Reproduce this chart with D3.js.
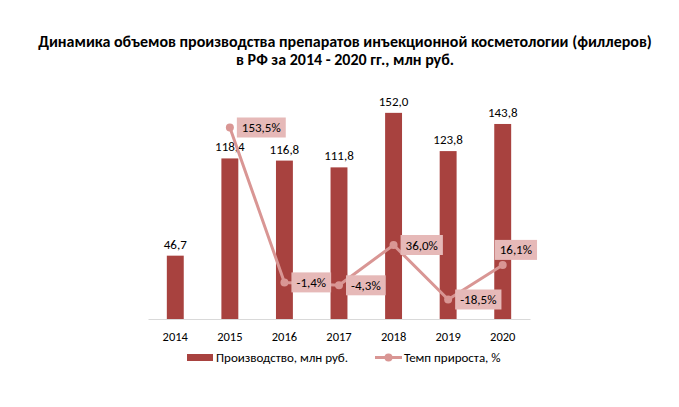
<!DOCTYPE html>
<html><head><meta charset="utf-8">
<script src="https://cdn.jsdelivr.net/npm/d3@7"></script>
<style>body{margin:0;background:#fff}svg{display:block}</style>
</head><body>
<script>
const years = ["2014","2015","2016","2017","2018","2019","2020"];
const production = [46.7,118.4,116.8,111.8,152.0,123.8,143.8];
const growth = [null,153.5,-1.4,-4.3,36.0,-18.5,16.1];
const titleLines = ["Динамика объемов производства препаратов инъекционной косметологии (филлеров)","в РФ за 2014 - 2020 гг., млн руб."];
const legendLabels = ["Производство, млн руб.","Темп прироста, %"];

const W=679,H=407;
const font="Carlito, Calibri, 'Liberation Sans', sans-serif";
const barColor="#A8423F", lineColor="#D99694", boxColor="#E6B9B8";
const svg=d3.select("body").append("svg").attr("width",W).attr("height",H);

svg.selectAll("text.title").data(titleLines).join("text")
  .attr("x",345).attr("y",(d,i)=>47+i*18).attr("text-anchor","middle")
  .attr("font-family",font).attr("font-weight","bold").attr("font-size",16)
  .attr("fill","#000").text(d=>d);

const x=d3.scaleBand().domain(years).range([148,530]).paddingInner(0.69).paddingOuter(0.345);
const y=d3.scaleLinear().domain([0,160]).range([319,102]);
const y2=d3.scaleLinear().domain([-38,179]).range([319,102]);
const fmt=v=>v.toFixed(1).replace(".",",");

// axis
const xAxis=svg.append("g").attr("transform","translate(0,319)").call(d3.axisBottom(x).tickSize(0).tickPadding(13));
xAxis.select(".domain").attr("stroke","#d9d9d9");
xAxis.selectAll("text").attr("font-family",font).attr("font-size",12.5).attr("fill","#000");

// bars
svg.selectAll("rect.bar").data(production).join("rect")
  .attr("x",(d,i)=>x(years[i])).attr("width",x.bandwidth())
  .attr("y",d=>y(d)).attr("height",d=>y(0)-y(d)).attr("fill",barColor);
svg.selectAll("text.bl").data(production).join("text")
  .attr("x",(d,i)=>x(years[i])+x.bandwidth()/2).attr("y",d=>y(d)-7)
  .attr("text-anchor","middle").attr("font-family",font).attr("font-size",13).attr("fill","#000")
  .text(fmt);

// line
const pts=growth.map((g,i)=>({g,yr:years[i],i})).filter(p=>p.g!==null);
const cx=p=>x(p.yr)+x.bandwidth()/2;
svg.append("path").datum(pts)
  .attr("d",d3.line().x(cx).y(p=>y2(p.g)))
  .attr("fill","none").attr("stroke",lineColor).attr("stroke-width",3).attr("stroke-linejoin","round");
svg.selectAll("circle.m").data(pts).join("circle")
  .attr("cx",cx).attr("cy",p=>y2(p.g)).attr("r",4).attr("fill",lineColor);

const lg=svg.selectAll("g.lab").data(pts).join("g");
lg.each(function(p,k){
  const g=d3.select(this);
  const t=g.append("text").attr("font-family",font).attr("font-size",13).attr("fill","#000")
    .text(fmt(p.g)+"%");
  const w=t.node().getComputedTextLength()+10, h=20;
  let bx=cx(p)+7, by=y2(p.g)-h/2;
  if(k===pts.length-1){ bx=cx(p)-8; by=y2(p.g)-h-5; }
  g.insert("rect","text").attr("x",bx).attr("y",by).attr("width",w).attr("height",h).attr("fill",boxColor);
  t.attr("x",bx+5).attr("y",by+14.5);
});

// legend
const leg=svg.append("g");
leg.append("rect").attr("x",187).attr("y",354).attr("width",26).attr("height",7).attr("fill",barColor);
leg.append("text").attr("x",216).attr("y",362).attr("font-family",font).attr("font-size",13).text(legendLabels[0]);
leg.append("line").attr("x1",375).attr("x2",402).attr("y1",357.5).attr("y2",357.5).attr("stroke",lineColor).attr("stroke-width",3);
leg.append("circle").attr("cx",388.5).attr("cy",357.5).attr("r",4).attr("fill",lineColor);
leg.append("text").attr("x",404).attr("y",362).attr("font-family",font).attr("font-size",13).text(legendLabels[1]);
</script>
</body></html>
